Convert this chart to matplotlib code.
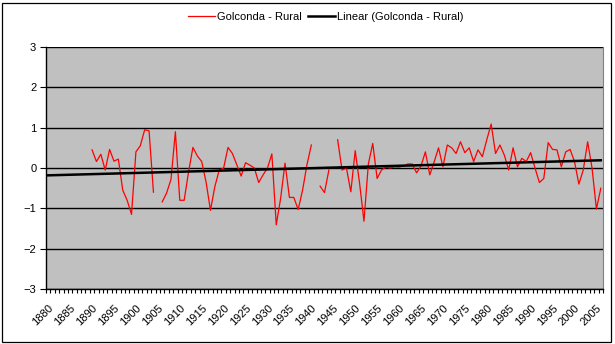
import numpy as np
import matplotlib.pyplot as plt
from matplotlib.patches import Rectangle

plt.rcParams['font.family'] = ['Liberation Sans', 'DejaVu Sans']

# categorias do eixo x (anos)
years = np.arange(1880, 2007)

# anomalias Golconda - Rural, 1890 a 2006 (nan = sem dado)
data_years = np.arange(1890, 2007)
anomaly = [
    0.45, 0.16, 0.34, -0.05, 0.46, 0.17, 0.22, -0.55, -0.80, -1.15,   # 1890
    0.40, 0.55, 0.95, 0.92, -0.60, np.nan, -0.84, -0.62, -0.28, 0.90,  # 1900
    -0.80, -0.80, -0.10, 0.51, 0.30, 0.16, -0.35, -1.05, -0.46, -0.05,  # 1910
    0.00, 0.51, 0.36, 0.08, -0.20, 0.13, 0.07, 0.00, -0.36, -0.17,     # 1920
    0.00, 0.35, -1.41, -0.75, 0.12, -0.73, -0.73, -1.03, -0.55, 0.08,  # 1930
    0.57, np.nan, -0.45, -0.61, -0.05, np.nan, 0.70, -0.05, 0.00, -0.59,  # 1940
    0.43, -0.38, -1.32, 0.10, 0.61, -0.26, -0.05, 0.02, 0.00, 0.03,    # 1950
    0.02, 0.05, 0.10, 0.10, -0.12, 0.05, 0.40, -0.17, 0.15, 0.50,      # 1960
    0.03, 0.57, 0.50, 0.36, 0.65, 0.38, 0.50, 0.16, 0.45, 0.28,        # 1970
    0.70, 1.09, 0.36, 0.57, 0.32, -0.05, 0.50, 0.03, 0.24, 0.16,       # 1980
    0.38, 0.00, -0.36, -0.26, 0.63, 0.46, 0.45, 0.03, 0.40, 0.46,      # 1990
    0.16, -0.40, -0.05, 0.65, 0.00, -1.02, -0.50,                      # 2000
]
anomaly = np.array(anomaly)

# posição de cada ano como categoria (0..N-1)
idx_data = data_years - years[0]
idx_all = np.arange(len(years))

# tendência linear (como a linha de tendência do Excel)
ok = ~np.isnan(anomaly)
coef = np.polyfit(idx_data[ok], anomaly[ok], 1)
trend = np.polyval(coef, idx_all)

fig = plt.figure(figsize=(6.15, 3.44), dpi=100)
ax = fig.add_axes([46 / 615, 1 - 289 / 344, 557 / 615, 242 / 344])
ax.set_facecolor('#C0C0C0')

ax.plot(idx_data, anomaly, color='#FF0000', lw=0.9, label='Golconda - Rural', zorder=3)
ax.plot(idx_all, trend, color='black', lw=1.8, label='Linear (Golconda - Rural)', zorder=4)

ax.set_xlim(-0.5, len(years) - 0.5)
ax.set_ylim(-3, 3)
ax.set_yticks(range(-3, 4))
ax.grid(axis='y', color='black', lw=1.0)
ax.set_axisbelow(True)

# marcas entre categorias, rótulos a cada 5 anos
ax.set_xticks(np.arange(-0.5, len(years)), minor=True)
ax.set_xticks(idx_all[::5])
ax.set_xticklabels([str(y) for y in years[::5]], rotation=45, ha='right',
                   rotation_mode='anchor', fontsize=8)
ax.tick_params(axis='x', which='major', length=0, pad=10)
ax.tick_params(axis='x', which='minor', length=3, width=0.8, direction='out')
ax.tick_params(axis='y', length=4, width=0.8, labelsize=8, pad=3)

for side in ['left', 'bottom']:
    ax.spines[side].set_color('black')
    ax.spines[side].set_linewidth(1.0)
ax.spines['top'].set_visible(False)
ax.spines['right'].set_color('#808080')

fig.legend(loc='center', bbox_to_anchor=(0.53, 1 - 17 / 344), ncol=2,
           frameon=False, fontsize=8, handlelength=2.4, handletextpad=0.2,
           columnspacing=0.6)

# moldura externa do gráfico
fig.patches.append(Rectangle((1.5 / 615, 2.5 / 344), 609 / 615, 339 / 344,
                             transform=fig.transFigure, fill=False,
                             edgecolor='black', lw=0.9))

fig.savefig('out.png', dpi=100)
